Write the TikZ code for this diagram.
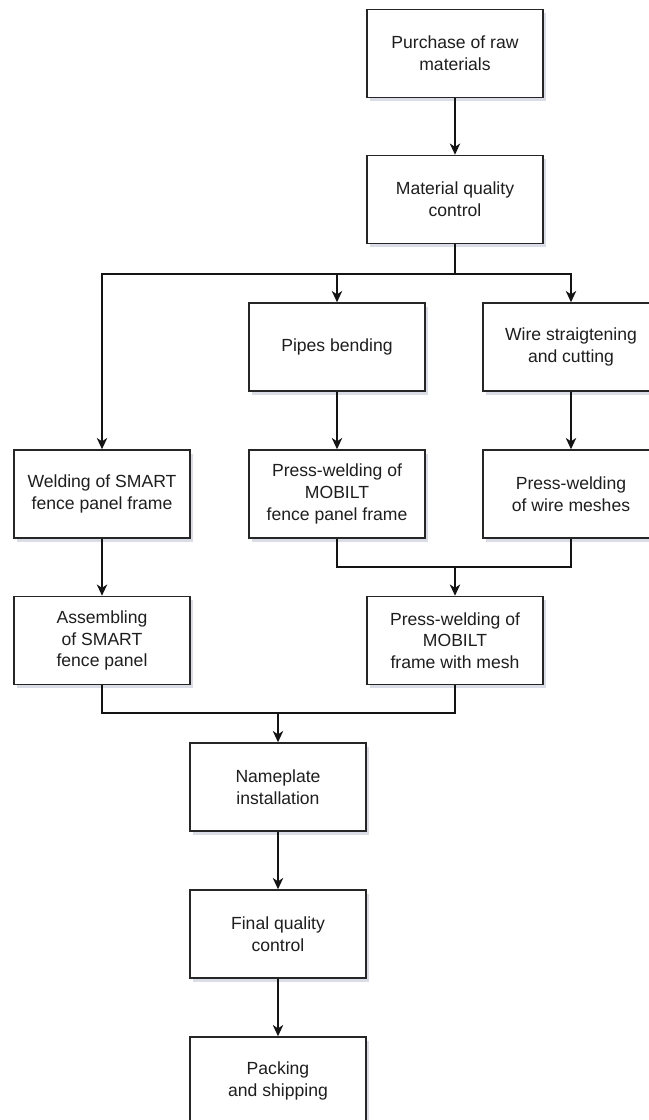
\documentclass[tikz,border=0pt]{standalone}
\usepackage{fontspec}
\setmainfont{Liberation Sans}
\usepackage{xcolor}
\definecolor{traitBoite}{HTML}{262626}
\definecolor{traitFleche}{HTML}{141414}
\definecolor{texteBoite}{HTML}{1E1E1E}
\definecolor{ombreBoite}{HTML}{AEB2C8}
\usepackage{tikz}
\usetikzlibrary{arrows.meta, shadows}
\newcommand{\SansCoupure}{\hyphenpenalty=10000\exhyphenpenalty=10000\relax}
\tikzset{
  %% -- Boxes --------------------------------------------------------------
  %% Every step of the process has the same size, so the columns line up.
  etape/.style   = {draw=traitBoite, line width=1.1pt, fill=white,
                    text=texteBoite, align=center, inner sep=2pt,
                    minimum width=4.4cm, minimum height=2.2cm,
                    font=\fontsize{12.5pt}{15.4pt}\selectfont,
                    drop shadow={shadow xshift=2pt, shadow yshift=-2.5pt,
                                 fill=ombreBoite, opacity=0.45},
                    execute at begin node=\SansCoupure},
  %%
  %% -- Connectors ---------------------------------------------------------
  fleche/.style  = {-{Stealth[length=8pt, width=7.4pt, inset=2.4pt]},
                    draw=traitFleche, line width=1pt},
  ligne/.style   = {draw=traitFleche, line width=1pt},
}

\begin{document}
\begin{tikzpicture}[x=0.025cm, y=-0.025cm]

\useasboundingbox (0, 0) rectangle (649, 1120);

%% top of the chain
\node[etape] (achat)         at (455, 53.5)  {Purchase of raw\\materials};
\node[etape] (controleMat)   at (455, 199.5) {Material quality\\control};

%% three branches
\node[etape] (cintrage)      at (337, 347)   {Pipes bending};
\node[etape] (dressage)      at (571, 347)   {Wire straigtening\\and cutting};
\node[etape] (soudageSmart)  at (102, 494)   {Welding of SMART\\fence panel frame};
\node[etape] (pressCadre)    at (337, 494)   {Press-welding of\\MOBILT\\fence panel frame};
\node[etape] (pressTreillis) at (571, 494)   {Press-welding\\of wire meshes};
\node[etape] (assemblage)    at (102, 640.5) {Assembling\\of SMART\\fence panel};
\node[etape] (pressMobilt)   at (455, 640.5) {Press-welding of\\MOBILT\\frame with mesh};

%% common end of the chain
\node[etape] (plaque)        at (278, 787)   {Nameplate\\installation};
\node[etape] (controleFinal) at (278, 934)   {Final quality\\control};
\node[etape] (emballage)     at (278, 1081)  {Packing\\and shipping};

\coordinate (repartition)     at (455, 274);
\coordinate (jonctionMobilt)  at (455, 567);
\coordinate (jonctionFinale)  at (278, 713);

\draw[fleche] (achat) -- (controleMat);
\draw[ligne]  (controleMat) -- (repartition);
\draw[fleche] (repartition) -| (soudageSmart);
\draw[fleche] (repartition) -| (cintrage);
\draw[fleche] (repartition) -| (dressage);

\draw[fleche] (cintrage) -- (pressCadre);
\draw[fleche] (dressage) -- (pressTreillis);
\draw[fleche] (soudageSmart) -- (assemblage);

\draw[ligne]  (pressCadre) |- (jonctionMobilt) -| (pressTreillis);
\draw[fleche] (jonctionMobilt) -- (pressMobilt);

\draw[ligne]  (assemblage) |- (jonctionFinale) -| (pressMobilt);
\draw[fleche] (jonctionFinale) -- (plaque);

\draw[fleche] (plaque) -- (controleFinal);
\draw[fleche] (controleFinal) -- (emballage);

\end{tikzpicture}
\end{document}
